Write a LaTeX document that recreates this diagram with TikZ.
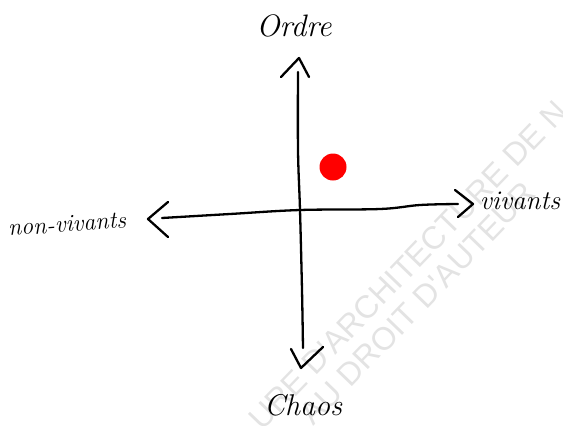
\documentclass[tikz,border=0pt]{standalone}
\usepackage{fontspec}
\newfontfamily\wmfont{Liberation Sans}
\begin{document}
\begin{tikzpicture}[x=1pt,y=-1pt,
  ink/.style={line width=2.3pt,black,line cap=round,line join=round},
  hand/.style={font=\itshape,inner sep=0pt},
  wmark/.style={font=\wmfont\fontsize{32}{32}\selectfont,text=gray!22,rotate=46,inner sep=0pt}]
\useasboundingbox (0,0) rectangle (563,426);
% watermark
\node[wmark] (wm1) at (408,265) {URE D'ARCHITECTURE DE N};
\node[wmark] (wm2) at (418,303) {AU DROIT D'AUTEUR};
% axis end points
\coordinate (L) at (162,218);
\coordinate (R) at (458,204);
\coordinate (T) at (298,72);
\coordinate (B) at (303,348);
% horizontal axis
\draw[ink] plot[smooth,tension=0.6] coordinates {(L) (230,214) (300,210) (380,209) (420,205) (R)};
% vertical axis
\draw[ink] plot[smooth,tension=0.6] coordinates {(T) (298,150) (300,210) (302,290) (B)};
% arrowheads
\draw[ink] (168,202) -- (148,219) -- (168,237);
\draw[ink] (455,190) -- (473,204) -- (458,217);
\draw[ink] (281,77) -- (299,58) -- (309,77);
\draw[ink] (291,349) -- (301,368) -- (323,347);
% red dot
\fill[red] (333,167) circle (13.5);
% labels
\node[hand,font=\itshape\fontsize{31}{31}\selectfont] (ordre) at (294,26) {Ordre};
\node[hand,font=\itshape\fontsize{30}{30}\selectfont] (chaos) at (303,405) {Chaos};
\node[hand,font=\itshape\fontsize{24}{24}\selectfont,rotate=4] (nonviv) at (67,224) {non-vivants};
\node[hand,font=\itshape\fontsize{27}{27}\selectfont] (viv) at (520,201) {vivants};
\end{tikzpicture}
\end{document}
